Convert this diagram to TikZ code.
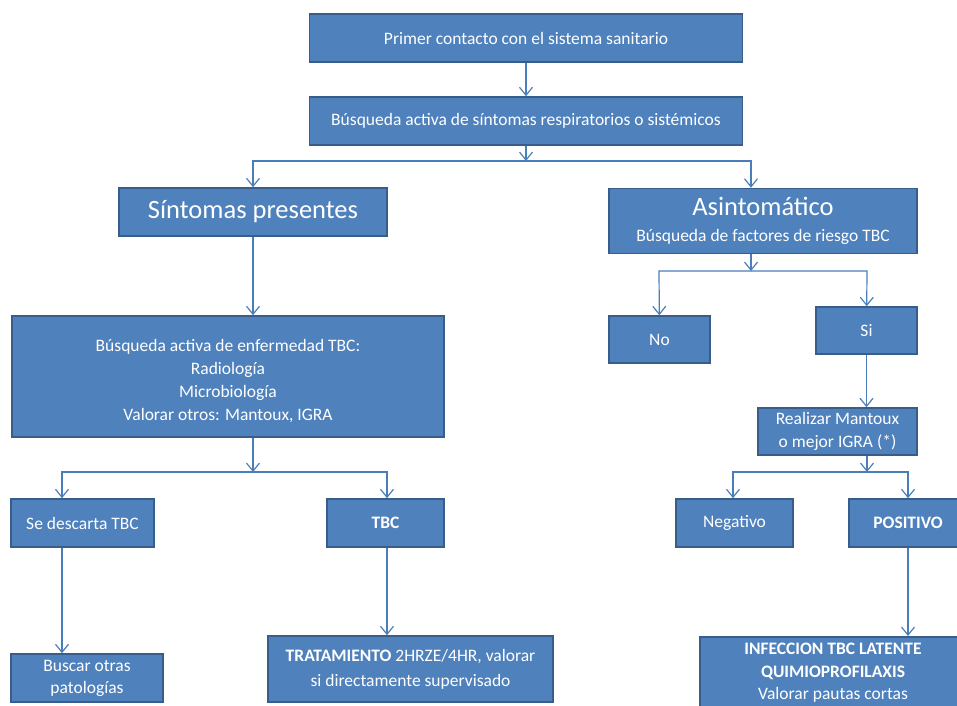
\documentclass[tikz,border=0pt]{standalone}
\usepackage{fontspec}
\setmainfont{Carlito}
\usetikzlibrary{arrows.meta}
\definecolor{boxfill}{HTML}{4F81BD}
\definecolor{boxline}{HTML}{385D8A}
\definecolor{wire}{HTML}{4A7EBB}
\begin{document}
\begin{tikzpicture}
    [x=1pt,y=-1pt,
     box/.style={draw=boxline,fill=boxfill,text=white,line width=1.6pt,
       inner sep=0pt,align=center,font=\fontsize{17.5}{23}\selectfont},
     boxtext/.style={text=white,align=center,inner sep=0pt,
       font=\fontsize{17.5}{23}\selectfont},
     big/.style={font=\fontsize{26.5}{30}\selectfont},
     post/.style={->,>={Straight Barb[length=8pt,width=13pt]},draw=wire,line width=1.2pt}]
    \clip (0,0) rectangle (957,705);
    \useasboundingbox (0,0) rectangle (957,705);
    \node [box,minimum width=433,minimum height=48] (contacto) at (526,38)
      {Primer contacto con el sistema sanitario};
    \node [box,minimum width=433,minimum height=48] (busqueda) at (526,121)
      {Búsqueda activa de síntomas respiratorios o sistémicos};
    \draw [post] (contacto) -- (busqueda);
    % primer reparto
    \coordinate (j1) at (526,161);
    \coordinate (j1l) at (253,161);
    \coordinate (j1r) at (751,161);
    \node [box,big,minimum width=268,minimum height=48] (presentes) at (253,212)
      {Síntomas presentes};
    \node [box,minimum width=308,minimum height=65] (asint) at (763,221)
      {{\fontsize{26.5}{28}\selectfont Asintomático}\\[3pt] Búsqueda de factores de riesgo TBC};
    \draw [post] (busqueda) -- (j1);
    \draw [post] (j1) -- (j1l) -- (presentes);
    \draw [post] (j1) -- (j1r) -- (j1r |- asint.north);
    % rama izquierda
    \node [box,minimum width=432,minimum height=121] (enfermedad) at (228,376.5) {};
    \node [boxtext] (enfermedad text) at ([yshift=-5pt]enfermedad.center)
      {Búsqueda activa de enfermedad TBC:\\ Radiología\\ Microbiología\\
       Valorar otros: Mantoux, IGRA};
    \draw [post] (presentes) -- (presentes |- enfermedad.north);
    \coordinate (j3) at (253,472);
    \coordinate (j3l) at (62,472);
    \coordinate (j3r) at (387,472);
    \draw [post] (j3 |- enfermedad.south) -- (j3);
    \node [box,minimum width=143,minimum height=48] (descarta) at (82.5,523)
      {Se descarta TBC};
    \node [box,minimum width=117,minimum height=48] (tbc) at (385.5,523)
      {\bfseries TBC};
    \draw [post] (j3) -- (j3l) -- (j3l |- descarta.north);
    \draw [post] (j3) -- (j3r) -- (j3r |- tbc.north);
    \node [box,minimum width=152,minimum height=48,font=\fontsize{17.5}{22}\selectfont]
      (buscar) at (87,678) {Buscar otras\\ patologías};
    \node [box,minimum width=285,minimum height=66,font=\fontsize{17.5}{25}\selectfont]
      (tratamiento) at (410.5,669)
      {\textbf{TRATAMIENTO} 2HRZE/4HR, valorar\\ si directamente supervisado};
    \draw [post] (j3l |- descarta.south) -- (j3l |- buscar.north);
    \draw [post] (j3r |- tbc.south) -- (j3r |- tratamiento.north);
    % rama derecha
    \coordinate (j2) at (751,271);
    \coordinate (j2l) at (659,271);
    \coordinate (j2r) at (867,271);
    \draw [post] (j1r |- asint.south) -- (j2);
    \node [box,minimum width=101,minimum height=47] (no) at (659.5,339.5) {No};
    \node [box,minimum width=101,minimum height=47] (si) at (866.5,330.5) {Si};
    \draw [post] (j2) -- (j2l) -- (no);
    \draw [post] (j2) -- (j2r) -- (si);
    \node [box,minimum width=159,minimum height=47] (realizar) at (837.5,431.5)
      {Realizar Mantoux\\ o mejor IGRA (*)};
    \draw [post] (si) -- (si |- realizar.north);
    \coordinate (j4) at (867,472);
    \coordinate (j4l) at (733,472);
    \coordinate (j4r) at (908,472);
    \draw [post] (j4 |- realizar.south) -- (j4);
    \node [box,minimum width=117,minimum height=48] (negativo) at (734.5,523)
      {Negativo};
    \node [box,minimum width=118,minimum height=48] (positivo) at (908,523)
      {\bfseries POSITIVO};
    \draw [post] (j4) -- (j4l) -- (j4l |- negativo.north);
    \draw [post] (j4) -- (j4r) -- (positivo);
    \node [box,minimum width=266,minimum height=88,anchor=north] (infeccion) at (833,636)
      {};
    \node [boxtext,font=\fontsize{17.5}{22.5}\selectfont,anchor=north]
      (infeccion text) at (833,643)
      {\textbf{INFECCION TBC LATENTE}\\ \textbf{QUIMIOPROFILAXIS}\\ Valorar pautas cortas};
    \draw [post] (positivo) -- (positivo |- infeccion.north);
\end{tikzpicture}
\end{document}
